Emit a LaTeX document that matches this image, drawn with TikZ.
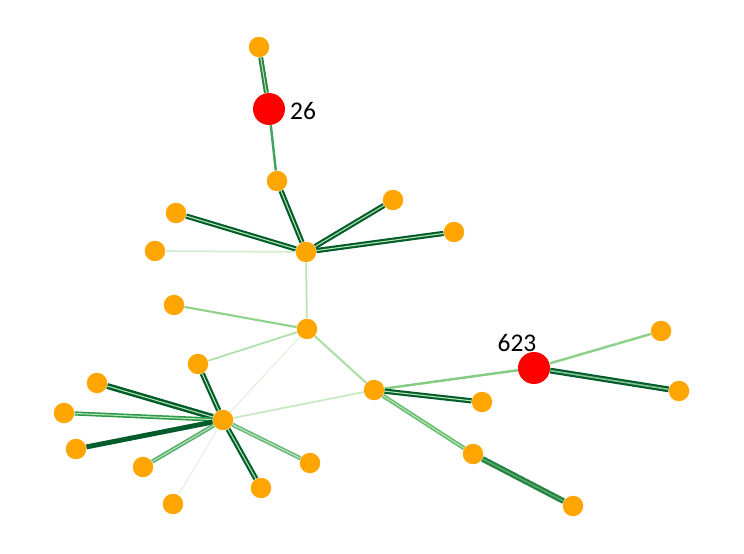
\documentclass[tikz,border=0pt]{standalone}
\usepackage{fontspec}
\setmainfont{Carlito}
\definecolor{vorange}{HTML}{FFA500}
\definecolor{vred}{HTML}{FF0000}
\definecolor{gdark}{HTML}{005C2A}
\definecolor{gmid}{HTML}{2E9A4E}
\definecolor{glight}{HTML}{8ED28A}
\definecolor{gpale}{HTML}{B9E4B2}
\definecolor{gfaint}{HTML}{E2F3DE}
\begin{document}
\begin{tikzpicture}[x=0.02cm,y=-0.02cm,
        vtx/.style={circle,fill=vorange,inner sep=0pt,minimum size=0.41cm},
        hit/.style={circle,fill=vred,inner sep=0pt,minimum size=0.64cm},
        lbl/.style={font=\fontsize{14.5}{17}\selectfont,inner sep=0pt},
        dbl/.style={draw=gdark,line width=1.2pt,double=gpale,double distance=0.6pt},
        dblmid/.style={draw=gmid,line width=0.9pt,double=gpale,double distance=0.6pt},
        thin/.style={draw=gpale,line width=1pt},
        faint/.style={draw=gfaint,line width=0.7pt}]
    \useasboundingbox (0,0) rectangle (744,554);
    % vertices
    \path (259,47) node[vtx] (A) {};
    \path (269,109) node[hit] (R26) {};
    \path (277,181) node[vtx] (B) {};
    \path (306,252) node[vtx] (H1) {};
    \path (176,213) node[vtx] (C) {};
    \path (155,251) node[vtx] (D) {};
    \path (393,200) node[vtx] (E) {};
    \path (454,232) node[vtx] (F) {};
    \path (307,329) node[vtx] (M) {};
    \path (174,305) node[vtx] (G) {};
    \path (198,364) node[vtx] (H) {};
    \path (223,420) node[vtx] (H2) {};
    \path (97,383) node[vtx] (I) {};
    \path (64,413) node[vtx] (J) {};
    \path (76,449) node[vtx] (K) {};
    \path (143,467) node[vtx] (L) {};
    \path (173,504) node[vtx] (N) {};
    \path (261,488) node[vtx] (O) {};
    \path (310,463) node[vtx] (P) {};
    \path (374,390) node[vtx] (H3) {};
    \path (482,402) node[vtx] (Q) {};
    \path (473,454) node[vtx] (S) {};
    \path (573,506) node[vtx] (T) {};
    \path (534,368) node[hit] (R623) {};
    \path (661,331) node[vtx] (U) {};
    \path (679,391) node[vtx] (V) {};
    % labels
    \path (303,111) node[lbl] (L26) {26};
    \path (517,343) node[lbl] (L623) {623};
    % edges
    \draw[dblmid,draw=gmid!85!black,line width=1.1pt] (A) -- (R26);
    \draw[draw=gmid!90,line width=1.4pt] (R26) -- (B);
    \draw[dbl] (B) -- (H1);
    \draw[dbl] (C) -- (H1);
    \draw[thin,draw=gfaint!60!gpale] (D) -- (H1);
    \draw[dbl] (E) -- (H1);
    \draw[dbl] (F) -- (H1);
    \draw[thin] (H1) -- (M);
    \draw[draw=glight,line width=1.2pt] (G) -- (M);
    \draw[thin,draw=gpale!80!glight] (M) -- (H);
    \draw[faint] (M) -- (H2);
    \draw[thin,line width=1.2pt,draw=gpale!70!glight] (M) -- (H3);
    \draw[thin,draw=gpale!80!white] (H2) -- (H3);
    \draw[dbl] (H2) -- (H);
    \draw[dbl,line width=1.4pt] (H2) -- (I);
    \draw[dblmid] (H2) -- (J);
    \draw[draw=gdark,line width=2.8pt] (H2) -- (K);
    \draw[dblmid,draw=gmid!80!white] (H2) -- (L);
    \draw[faint] (H2) -- (N);
    \draw[dbl] (H2) -- (O);
    \draw[dblmid,draw=gmid!70!white] (H2) -- (P);
    \draw[draw=glight!90!gmid,line width=1.4pt] (H3) -- (R623);
    \draw[dbl] (H3) -- (Q);
    \draw[dblmid,draw=glight!60!gmid,double=gpale] (H3) -- (S);
    \draw[draw=gmid!85!black,line width=1.3pt,double=gmid!80!white,double distance=0.7pt] (S) -- (T);
    \draw[draw=glight,line width=1.4pt] (R623) -- (U);
    \draw[dbl,double=gmid!60!white,double distance=0.9pt] (R623) -- (V);
\end{tikzpicture}
\end{document}
